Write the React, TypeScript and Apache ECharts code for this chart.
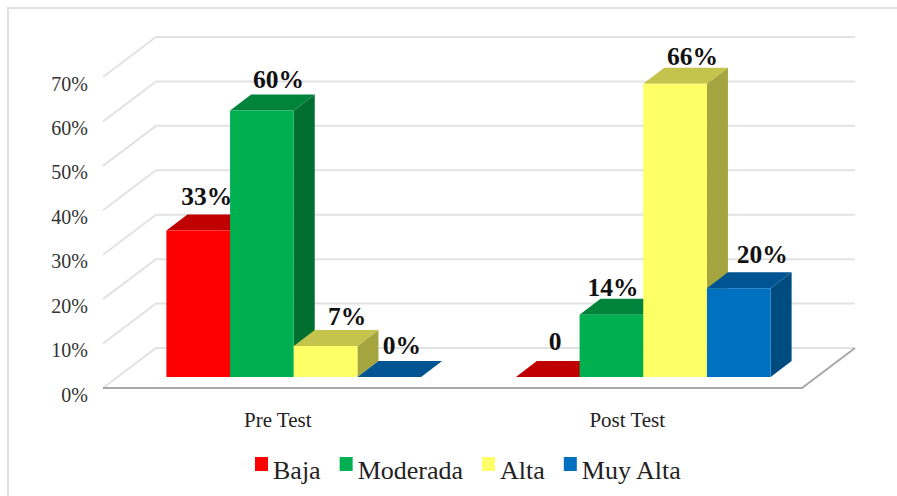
import React, { useEffect, useRef } from "react";
import * as echarts from "echarts";

const categories = ["Pre Test", "Post Test"];
const tickValues = [0, 10, 20, 30, 40, 50, 60, 70];
const seriesNames = ["Baja", "Moderada", "Alta", "Muy Alta"];
const baja = [33, 0];
const moderada = [60, 14];
const alta = [7, 66];
const muyAlta = [0, 20];
const bajaLabels = ["33%", "0"];
const moderadaLabels = ["60%", "14%"];
const altaLabels = ["7%", "66%"];
const muyAltaLabels = ["0%", "20%"];

const seriesValues = [baja, moderada, alta, muyAlta];
const seriesLabels = [bajaLabels, moderadaLabels, altaLabels, muyAltaLabels];
const frontColors = ["#FF0000", "#00B050", "#FFFF66", "#0070C0"];
const topColors = ["#C00000", "#00843C", "#C4C44D", "#005491"];
const sideColors = ["#A80000", "#006F30", "#A5A53F", "#004B80"];

// label nudges (dx, dy) per series, per category
const labelNudges = [
  [[-2, -4], [-3, -6]],
  [[6, -1], [-9, 3]],
  [[11, 1], [7, 3]],
  [[2, -2], [13, -4]],
];

const FLOOR_DX = 53;
const FLOOR_DY = 40;
const BAR_DX = 21;
const BAR_DY = 16;
const BASE_DX = 16;
const BASE_DY = 11;
const BAR_SHARE = 0.1822;

function wallItem(params: any, api: any) {
  const v = api.value(0);
  const cs = params.coordSys;
  const y = api.coord([0, v])[1];
  const left = cs.x;
  const right = cs.x + cs.width;
  const light = "#E2E2E2";
  const dark = "#A8A8A8";
  const children: any[] = [
    {
      type: "polyline",
      shape: { points: [[left, y], [left + FLOOR_DX, y - FLOOR_DY], [right + FLOOR_DX, y - FLOOR_DY]] },
      style: { stroke: light, lineWidth: 2, fill: "none" },
    },
  ];
  if (v === 0) {
    children.push({
      type: "polyline",
      shape: { points: [[left, y], [right, y], [right + FLOOR_DX, y - FLOOR_DY]] },
      style: { stroke: dark, lineWidth: 2, fill: "none" },
    });
  }
  return { type: "group", children };
}

function barItem(seriesIndex: number) {
  return (params: any, api: any) => {
    const cat = api.value(0);
    const val = api.value(1);
    const base = api.coord([cat, 0]);
    const top = api.coord([cat, val]);
    const w = api.size([1, 0])[0] * BAR_SHARE;
    const x0 = base[0] + BASE_DX - 2 * w + seriesIndex * w;
    const x1 = x0 + w;
    const yb = base[1] - BASE_DY;
    const yt = top[1] - BASE_DY;
    const nudge = labelNudges[seriesIndex][cat];
    const poly = (points: number[][], fill: string) => ({
      type: "polygon",
      shape: { points },
      style: { fill },
    });
    return {
      type: "group",
      children: [
        poly([[x1, yb], [x1 + BAR_DX, yb - BAR_DY], [x1 + BAR_DX, yt - BAR_DY], [x1, yt]], sideColors[seriesIndex]),
        poly([[x0, yt], [x1, yt], [x1 + BAR_DX, yt - BAR_DY], [x0 + BAR_DX, yt - BAR_DY]], topColors[seriesIndex]),
        poly([[x0, yb], [x1, yb], [x1, yt], [x0, yt]], frontColors[seriesIndex]),
        {
          type: "text",
          z2: 50,
          style: {
            text: seriesLabels[seriesIndex][cat],
            x: x0 + w / 2 + BAR_DX / 2 + nudge[0],
            y: yt - BAR_DY - 14 + nudge[1],
            align: "center",
            verticalAlign: "middle",
            fill: "#111111",
            font: 'bold 25.5px "Liberation Serif"',
          },
        },
      ],
    };
  };
}

export default function App() {
  const ref = useRef<HTMLDivElement>(null);
  useEffect(() => {
    const chart = echarts.init(ref.current!, undefined, { renderer: "svg" });
    chart.setOption({
      animation: false,
      backgroundColor: "#FFFFFF",
      grid: { left: 103, right: 95, top: 77, bottom: 108, containLabel: false },
      graphic: [
        {
          type: "polyline",
          shape: { points: [[8, 496], [8, 8], [897, 8]] },
          style: { stroke: "#E0E0E0", lineWidth: 2, fill: "none" },
        },
      ],
      legend: {
        data: seriesNames,
        left: 250,
        top: 452,
        icon: "rect",
        itemWidth: 13,
        itemHeight: 14,
        itemGap: 19,
        selectedMode: false,
        formatter: "{a|{name}}",
        textStyle: {
          rich: {
            a: {
              fontFamily: "Liberation Serif",
              fontSize: 26,
              color: "#222222",
              padding: [12, 0, 0, 0],
            },
          },
        },
      },
      xAxis: {
        type: "category",
        data: categories,
        axisLine: { show: false },
        axisTick: { show: false },
        axisLabel: {
          margin: 21,
          fontFamily: "Liberation Serif",
          fontSize: 21,
          color: "#222222",
        },
      },
      yAxis: {
        type: "value",
        min: 0,
        max: 70,
        interval: 10,
        axisLine: { show: false },
        axisTick: { show: false },
        splitLine: { show: false },
        axisLabel: {
          margin: 15,
          formatter: "{value}%",
          fontFamily: "Liberation Serif",
          fontSize: 20,
          color: "#333333",
          verticalAlign: "top",
          lineHeight: 13,
        },
      },
      series: [
        {
          type: "custom",
          name: "wall",
          coordinateSystem: "cartesian2d",
          renderItem: wallItem,
          data: tickValues.map((v) => [v]),
          encode: { y: 0 },
          silent: true,
        },
        ...seriesNames.map((name, i) => ({
          type: "custom",
          name,
          coordinateSystem: "cartesian2d",
          renderItem: barItem(i),
          itemStyle: { color: frontColors[i] },
          data: seriesValues[i].map((v, c) => [c, v]),
          encode: { x: 0, y: 1 },
        })),
      ],
    });
    return () => chart.dispose();
  }, []);
  return <div ref={ref} style={{ position: "fixed", left: 0, top: 0, width: 897, height: 496 }} />;
}
